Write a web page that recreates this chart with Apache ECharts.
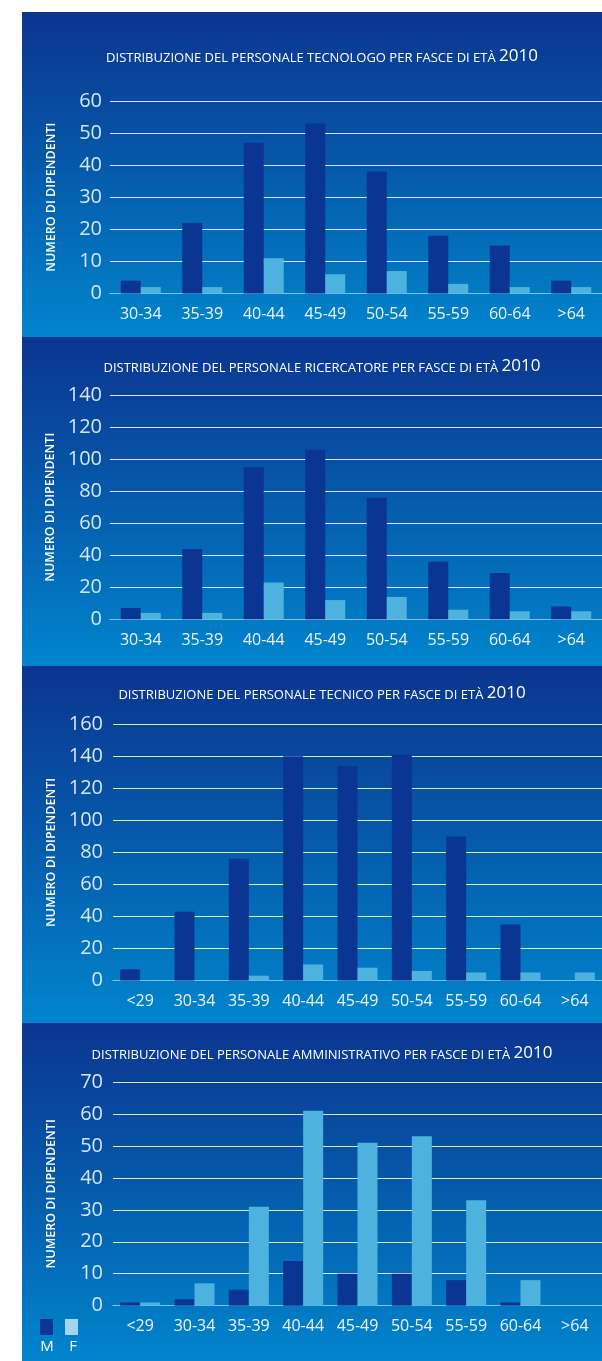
<!DOCTYPE html>
<html><head><meta charset="utf-8">
<script src="https://cdn.jsdelivr.net/npm/echarts@6/dist/echarts.min.js"></script>
<style>html,body{margin:0;padding:0;background:#fff}#c{width:602px;height:1361px}</style>
</head><body><div id="c"></div>
<script>
// ---------- data ----------
const titleTexts = [
  'DISTRIBUZIONE DEL PERSONALE TECNOLOGO PER FASCE DI ETÀ',
  'DISTRIBUZIONE DEL PERSONALE RICERCATORE PER FASCE DI ETÀ',
  'DISTRIBUZIONE DEL PERSONALE TECNICO PER FASCE DI ETÀ',
  'DISTRIBUZIONE DEL PERSONALE AMMINISTRATIVO PER FASCE DI ETÀ'
];
const titleYear = '2010';
const yAxisTitle = 'NUMERO DI DIPENDENTI';
const seriesNames = ['M', 'F'];

const agesEight = ['30-34', '35-39', '40-44', '45-49', '50-54', '55-59', '60-64', '>64'];
const agesNine = ['<29', '30-34', '35-39', '40-44', '45-49', '50-54', '55-59', '60-64', '>64'];

const tecnologoM = [4, 22, 47, 53, 38, 18, 15, 4];
const tecnologoF = [2, 2, 11, 6, 7, 3, 2, 2];
const ricercatoreM = [7, 44, 95, 106, 76, 36, 29, 8];
const ricercatoreF = [4, 4, 23, 12, 14, 6, 5, 5];
const tecnicoM = [7, 43, 76, 140, 134, 141, 90, 35, 0];
const tecnicoF = [0, 0, 3, 10, 8, 6, 5, 5, 5];
const amministrativoM = [1, 2, 5, 14, 10, 10, 8, 1, 0];
const amministrativoF = [1, 7, 31, 61, 51, 53, 33, 8, 0];

const yAxisMax = [60, 140, 160, 70];
const yAxisStep = [10, 20, 20, 10];

// ---------- layout / style ----------
const FONT = '"Open Sans", "Noto Sans", sans-serif';
const colM = '#0a3592';
const colF = '#4db3de';
const panelBox = [[12, 337], [337, 666], [666, 1023], [1023, 1361]];
const gridBox = [
  { left: 110, top: 101, width: 501, height: 192.5 },
  { left: 110, top: 395.3, width: 501, height: 224 },
  { left: 113, top: 724.3, width: 495, height: 256.2 },
  { left: 113, top: 1082, width: 495, height: 223.7 }
];
const titleCenterY = [55, 364.5, 692, 1052];

const panels = [
  { cats: agesEight, m: tecnologoM, f: tecnologoF },
  { cats: agesEight, m: ricercatoreM, f: ricercatoreF },
  { cats: agesNine, m: tecnicoM, f: tecnicoF },
  { cats: agesNine, m: amministrativoM, f: amministrativoF }
];

const option = {
  backgroundColor: '#ffffff',
  animation: false,
  textStyle: { fontFamily: FONT },
  graphic: panelBox.map(b => ({
    type: 'rect', z: -10, silent: true,
    shape: { x: 22, y: b[0], width: 580, height: b[1] - b[0] },
    style: {
      fill: new echarts.graphic.LinearGradient(0, 0, 0, 1, [
        { offset: 0, color: '#0b3590' },
        { offset: 0.45, color: '#0657a9' },
        { offset: 1, color: '#0185cd' }
      ])
    }
  })).concat([
    { type: 'text', x: 47, y: 1347, silent: true,
      style: { text: 'M', fill: '#ffffff', font: '15px ' + FONT, textAlign: 'center', textVerticalAlign: 'middle', align: 'center', verticalAlign: 'middle' } },
    { type: 'text', x: 73, y: 1347, silent: true,
      style: { text: 'F', fill: '#ffffff', font: '15px ' + FONT, textAlign: 'center', textVerticalAlign: 'middle', align: 'center', verticalAlign: 'middle' } }
  ]),
  title: titleTexts.map((t, i) => ({
    text: '{a|' + t + ' }{b|' + titleYear + '}',
    left: 322, top: titleCenterY[i], padding: 0,
    textAlign: 'center', textVerticalAlign: 'middle',
    textStyle: {
      fontWeight: 'normal',
      rich: {
        a: { fontFamily: FONT, fontSize: 13, fontWeight: 'normal', color: '#ffffff', verticalAlign: 'bottom', lineHeight: 20 },
        b: { fontFamily: FONT, fontSize: 17, fontWeight: 'normal', color: '#ffffff', verticalAlign: 'bottom', lineHeight: 20 }
      }
    }
  })),
  legend: {
    data: [
      { name: seriesNames[0], itemStyle: { color: colM } },
      { name: seriesNames[1], itemStyle: { color: '#a3d5f0' } }
    ],
    left: 40, top: 1319, padding: 0, icon: 'rect',
    itemWidth: 13, itemHeight: 16, itemGap: 12,
    formatter: () => '', selectedMode: false
  },
  grid: gridBox.map(g => Object.assign({ containLabel: false }, g)),
  xAxis: panels.map((p, i) => ({
    type: 'category', gridIndex: i, data: p.cats,
    axisTick: { show: false },
    axisLine: { show: true, lineStyle: { color: '#7cc3ea', width: 1.2 } },
    axisLabel: { color: '#eef4fb', fontSize: 16, fontFamily: FONT, margin: 13, interval: 0 }
  })),
  yAxis: panels.map((p, i) => ({
    type: 'value', gridIndex: i, min: 0, max: yAxisMax[i], interval: yAxisStep[i],
    name: yAxisTitle, nameLocation: 'middle', nameRotate: 90,
    nameGap: i < 2 ? 52 : 55,
    nameTextStyle: { color: '#ffffff', fontSize: 12.5, fontWeight: 600, fontFamily: FONT },
    axisLine: { show: false }, axisTick: { show: false },
    axisLabel: { color: '#d6e6f5', fontSize: 20, fontFamily: FONT, margin: i < 2 ? 8 : 10 },
    splitLine: { show: true, lineStyle: { color: 'rgba(255,255,255,0.85)', width: 1.2 } }
  })),
  series: panels.flatMap((p, i) => [
    { name: seriesNames[0], type: 'bar', xAxisIndex: i, yAxisIndex: i, data: p.m,
      barWidth: 20, barGap: '0%', itemStyle: { color: colM } },
    { name: seriesNames[1], type: 'bar', xAxisIndex: i, yAxisIndex: i, data: p.f,
      barWidth: 20, barGap: '0%', itemStyle: { color: colF } }
  ])
};

const chart = echarts.init(document.getElementById('c'), null, { renderer: 'canvas' });
chart.setOption(option);
</script>
</body></html>
